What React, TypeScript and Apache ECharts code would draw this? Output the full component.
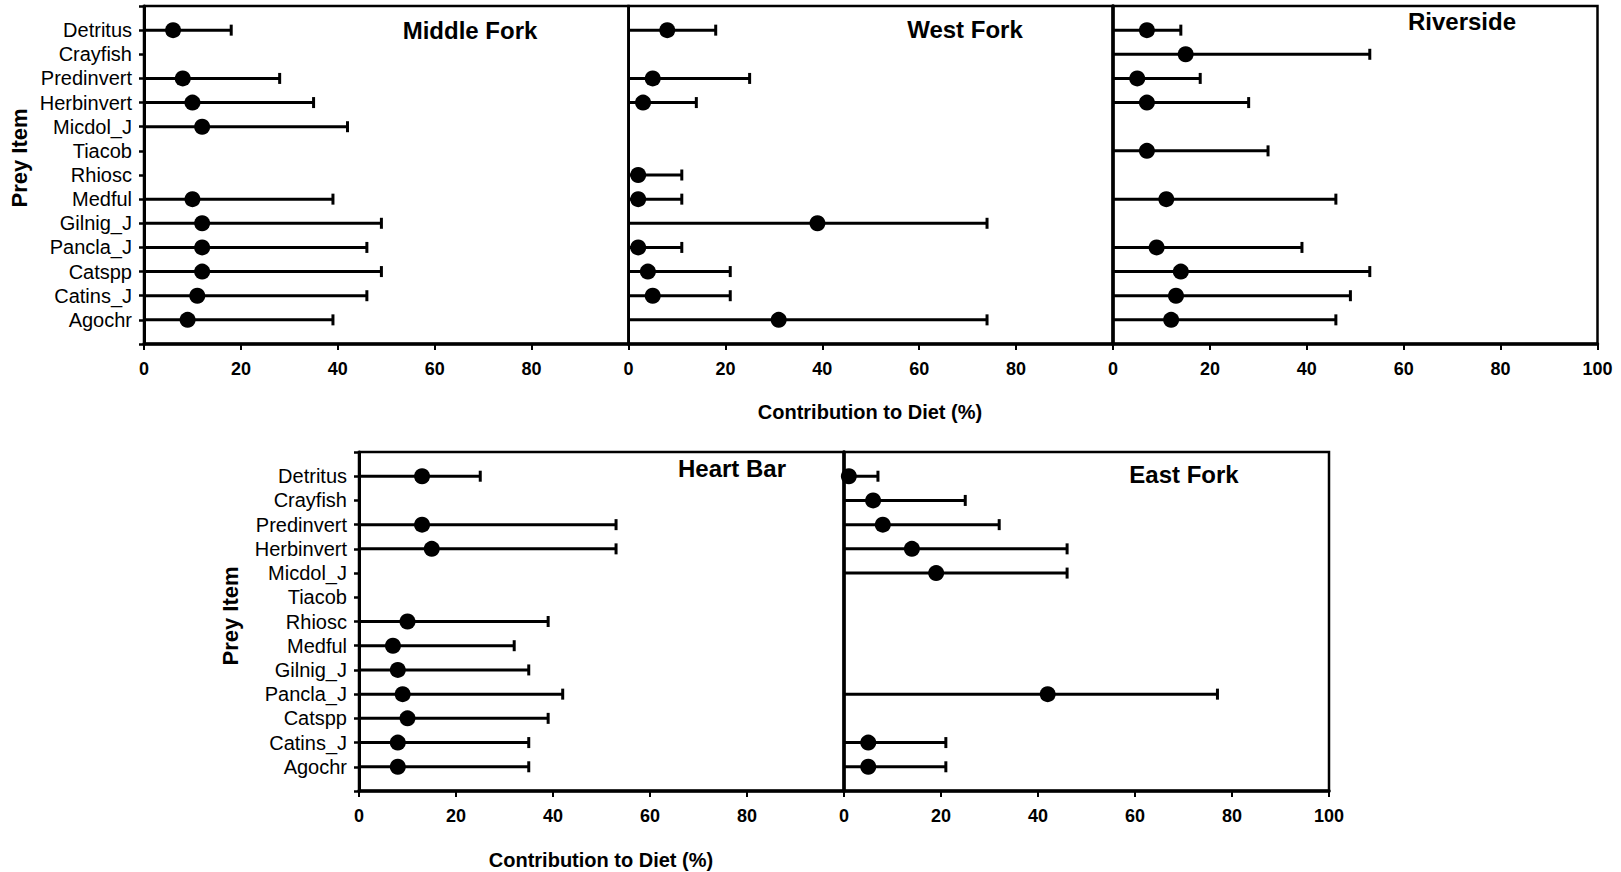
import React, { useEffect, useRef } from "react";
import * as echarts from "echarts";

// ---------- data ----------
const preyItems = [
  "Detritus", "Crayfish", "Predinvert", "Herbinvert", "Micdol_J", "Tiacob", "Rhiosc",
  "Medful", "Gilnig_J", "Pancla_J", "Catspp", "Catins_J", "Agochr",
];

const siteNames = ["Middle Fork", "West Fork", "Riverside", "Heart Bar", "East Fork"];

// median contribution (dot) and upper credible limit (cap); null = prey not in model
const middleForkMedian = [6, null, 8, 10, 12, null, null, 10, 12, 12, 12, 11, 9];
const middleForkUpper = [18, null, 28, 35, 42, null, null, 39, 49, 46, 49, 46, 39];

const westForkMedian = [8, null, 5, 3, null, null, 2, 2, 39, 2, 4, 5, 31];
const westForkUpper = [18, null, 25, 14, null, null, 11, 11, 74, 11, 21, 21, 74];

const riversideMedian = [7, 15, 5, 7, null, 7, null, 11, null, 9, 14, 13, 12];
const riversideUpper = [14, 53, 18, 28, null, 32, null, 46, null, 39, 53, 49, 46];

const heartBarMedian = [13, null, 13, 15, null, null, 10, 7, 8, 9, 10, 8, 8];
const heartBarUpper = [25, null, 53, 53, null, null, 39, 32, 35, 42, 39, 35, 35];

const eastForkMedian = [1, 6, 8, 14, 19, null, null, null, null, 42, null, 5, 5];
const eastForkUpper = [7, 25, 32, 46, 46, null, null, null, null, 77, null, 21, 21];

// lower credible limit read as 0 for every item
const lowerLimit = 0;

const xMin = 0;
const xMax = 100;
const xStep = 20;

const yAxisTitle = "Prey Item";
const xAxisTitle = "Contribution to Diet (%)";

// ---------- layout ----------
const FONT = "'Liberation Sans', Arial, Helvetica, sans-serif";

const panels = [
  { left: 144, top: 6, width: 484.5, height: 338, median: middleForkMedian, upper: middleForkUpper, labels: true, last: false, axisW: 3 },
  { left: 628.5, top: 6, width: 484.5, height: 338, median: westForkMedian, upper: westForkUpper, labels: false, last: false, axisW: 2 },
  { left: 1113, top: 6, width: 484.5, height: 338, median: riversideMedian, upper: riversideUpper, labels: false, last: true, axisW: 3.5 },
  { left: 359, top: 452, width: 485, height: 339, median: heartBarMedian, upper: heartBarUpper, labels: true, last: false, axisW: 3 },
  { left: 844, top: 452, width: 485, height: 339, median: eastForkMedian, upper: eastForkUpper, labels: false, last: true, axisW: 3.5 },
];

const titlePos = [
  { x: 470, y: 30, weight: "bold", size: 24 },
  { x: 965, y: 29, weight: "bold", size: 24 },
  { x: 1462, y: 21, weight: "bold", size: 24 },
  { x: 732, y: 468, weight: "bold", size: 24 },
  { x: 1184, y: 474, weight: "bold", size: 24 },
];

function buildOption() {
  const grid: any[] = [];
  const xAxis: any[] = [];
  const yAxis: any[] = [];
  const series: any[] = [];

  panels.forEach((p, i) => {
    grid.push({
      left: p.left,
      top: p.top,
      width: p.width,
      height: p.height,
      show: true,
      borderColor: "#000",
      borderWidth: 2.5,
      backgroundColor: "transparent",
      containLabel: false,
    });
    xAxis.push({
      type: "value",
      gridIndex: i,
      min: xMin,
      max: xMax,
      interval: xStep,
      axisLine: { show: true, onZero: false, lineStyle: { color: "#000", width: 3.5 } },
      axisTick: { show: true, length: 6, lineStyle: { color: "#000", width: 2 } },
      axisLabel: {
        show: true,
        showMinLabel: true,
        showMaxLabel: true,
        margin: 16,
        color: "#000",
        fontSize: 18,
        fontWeight: "bold",
        fontFamily: FONT,
        formatter: (v: number) => (v === xMax && !p.last ? "" : String(v)),
      },
      splitLine: { show: false },
    });
    yAxis.push({
      type: "value",
      gridIndex: i,
      min: 0,
      max: preyItems.length + 1,
      interval: 1,
      inverse: true,
      axisLine: { show: true, onZero: false, lineStyle: { color: "#000", width: p.axisW } },
      axisTick: { show: p.labels, length: 5, lineStyle: { color: "#000", width: 2.5 } },
      axisLabel: {
        show: p.labels,
        margin: 12,
        color: "#000",
        fontSize: 20,
        fontFamily: FONT,
        formatter: (v: number) => preyItems[v - 1] ?? "",
      },
      splitLine: { show: false },
    });

    const barData: any[] = [];
    const dotData: any[] = [];
    preyItems.forEach((_, k) => {
      const up = p.upper[k];
      const med = p.median[k];
      if (up != null) barData.push([lowerLimit, up, k + 1]);
      if (med != null) dotData.push([med, k + 1]);
    });

    series.push({
      type: "custom",
      name: siteNames[i] + " range",
      xAxisIndex: i,
      yAxisIndex: i,
      encode: { x: [0, 1], y: 2 },
      data: barData,
      renderItem: (_params: any, api: any) => {
        const lo = api.value(0);
        const hi = api.value(1);
        const row = api.value(2);
        const s = api.coord([lo, row]);
        const e = api.coord([hi, row]);
        const st = { stroke: "#000", lineWidth: 3 };
        return {
          type: "group",
          children: [
            { type: "line", shape: { x1: s[0], y1: s[1], x2: e[0], y2: e[1] }, style: st },
            { type: "line", shape: { x1: e[0], y1: e[1] - 5.5, x2: e[0], y2: e[1] + 5.5 }, style: st },
          ],
        };
      },
      z: 2,
    });
    series.push({
      type: "scatter",
      name: siteNames[i],
      xAxisIndex: i,
      yAxisIndex: i,
      data: dotData,
      symbol: "circle",
      symbolSize: 16,
      itemStyle: { color: "#000", opacity: 1 },
      z: 3,
    });
  });

  const graphic: any[] = [];
  siteNames.forEach((name, i) => {
    const t = titlePos[i];
    graphic.push({
      type: "text",
      x: t.x,
      y: t.y,
      style: {
        text: name,
        fill: "#000",
        fontSize: t.size,
        fontWeight: t.weight,
        fontFamily: FONT,
        textAlign: "center",
        textVerticalAlign: "middle",
        align: "center",
        verticalAlign: "middle",
      },
    });
  });
  [
    { x: 19, y: 158 },
    { x: 230, y: 616 },
  ].forEach((pos) => {
    graphic.push({
      type: "text",
      x: pos.x,
      y: pos.y,
      rotation: Math.PI / 2,
      style: {
        text: yAxisTitle,
        fill: "#000",
        fontSize: 22,
        fontWeight: "bold",
        fontFamily: FONT,
        textAlign: "center",
        textVerticalAlign: "middle",
        align: "center",
        verticalAlign: "middle",
      },
    });
  });
  [
    { x: 870, y: 412 },
    { x: 601, y: 860 },
  ].forEach((pos) => {
    graphic.push({
      type: "text",
      x: pos.x,
      y: pos.y,
      style: {
        text: xAxisTitle,
        fill: "#000",
        fontSize: 20,
        fontWeight: "bold",
        fontFamily: FONT,
        textAlign: "center",
        textVerticalAlign: "middle",
        align: "center",
        verticalAlign: "middle",
      },
    });
  });

  return {
    animation: false,
    backgroundColor: "#fff",
    grid,
    xAxis,
    yAxis,
    series,
    graphic,
  };
}

export default function App() {
  const ref = useRef<HTMLDivElement>(null);
  useEffect(() => {
    if (!ref.current) return;
    const chart = echarts.init(ref.current, undefined, { renderer: "svg" });
    chart.setOption(buildOption() as any);
    return () => chart.dispose();
  }, []);
  return (
    <div
      ref={ref}
      style={{ position: "absolute", left: 0, top: 0, width: 1621, height: 872, background: "#fff" }}
    />
  );
}
